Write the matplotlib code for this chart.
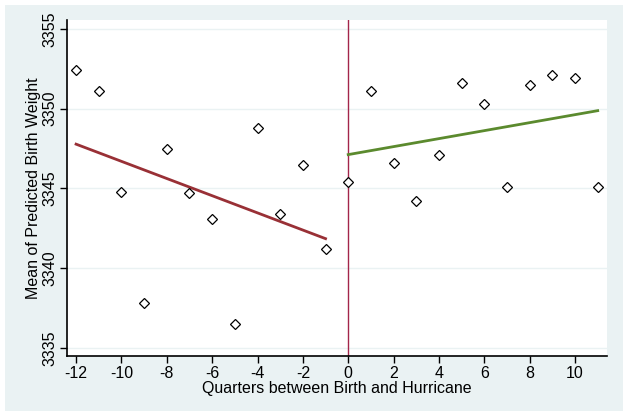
import matplotlib.pyplot as plt
import numpy as np
from matplotlib.patches import Rectangle

plt.rcParams['font.family'] = ['Liberation Sans', 'DejaVu Sans']
plt.rcParams['axes.unicode_minus'] = False

# Quarters between birth and hurricane, and mean predicted birth weight
quarters_pre = [-12, -11, -10, -9, -8, -7, -6, -5, -4, -3, -2, -1]
weight_pre = [3352.4, 3351.1, 3344.8, 3337.8, 3347.5, 3344.7,
              3343.1, 3336.5, 3348.8, 3343.4, 3346.5, 3341.2]
quarters_post = [0, 1, 2, 3, 4, 5, 6, 7, 8, 9, 10, 11]
weight_post = [3345.4, 3351.1, 3346.6, 3344.2, 3347.1, 3351.6,
               3350.3, 3345.1, 3351.5, 3352.1, 3351.9, 3345.1]

x_ticks = np.arange(-12, 11, 2)
y_ticks = [3335, 3340, 3345, 3350, 3355]

bg = '#EAF2F3'
fig = plt.figure(figsize=(6.29, 4.16), dpi=100, facecolor='white')
# outer light panel (behind the axes)
fig.patches.append(Rectangle((5 / 629, 5 / 416), 618 / 629, 406 / 416,
                             transform=fig.transFigure, facecolor=bg,
                             edgecolor='none', zorder=-10))

ax = fig.add_axes([67 / 629, 60 / 416, 540 / 629, 336 / 416])
ax.set_facecolor('white')

# scatter points
xs = quarters_pre + quarters_post
ys = weight_pre + weight_post
ax.plot(xs, ys, linestyle='none', marker='D', markersize=4.6,
        markerfacecolor='white', markeredgecolor='black',
        markeredgewidth=0.9, zorder=4)

# linear fits on each side
xp = np.array(quarters_pre)
b, a = np.polyfit(xp, weight_pre, 1)
ax.plot([xp.min(), xp.max()], [a + b * xp.min(), a + b * xp.max()],
        color='#993036', linewidth=2.0, zorder=3)
xq = np.array(quarters_post)
b2, a2 = np.polyfit(xq, weight_post, 1)
ax.plot([xq.min(), xq.max()], [a2 + b2 * xq.min(), a2 + b2 * xq.max()],
        color='#5B8A2E', linewidth=2.0, zorder=3)

ax.axvline(0, color='#A3254A', linewidth=1.0, zorder=2)

ax.set_xlim(-12.4, 11.41)
ax.set_ylim(3334.5, 3355.56)
ax.set_xticks(x_ticks)
ax.set_yticks(y_ticks)
ax.set_yticklabels([str(v) for v in y_ticks], rotation=90, va='center')
ax.tick_params(axis='both', direction='out', length=5, width=1,
               labelsize=11.5, color='black')
ax.tick_params(axis='y', pad=2)
ax.tick_params(axis='x', pad=2)
ax.grid(axis='y', color=bg, linewidth=1.0)
ax.set_axisbelow(True)

for s in ['top', 'right']:
    ax.spines[s].set_visible(False)
for s in ['left', 'bottom']:
    ax.spines[s].set_linewidth(1.2)

ax.set_xlabel('Quarters between Birth and Hurricane', fontsize=11.5, labelpad=0.5)
ax.set_ylabel('Mean of Predicted Birth Weight', fontsize=11.5, labelpad=1)

fig.savefig('out.png', dpi=100, facecolor='white')
